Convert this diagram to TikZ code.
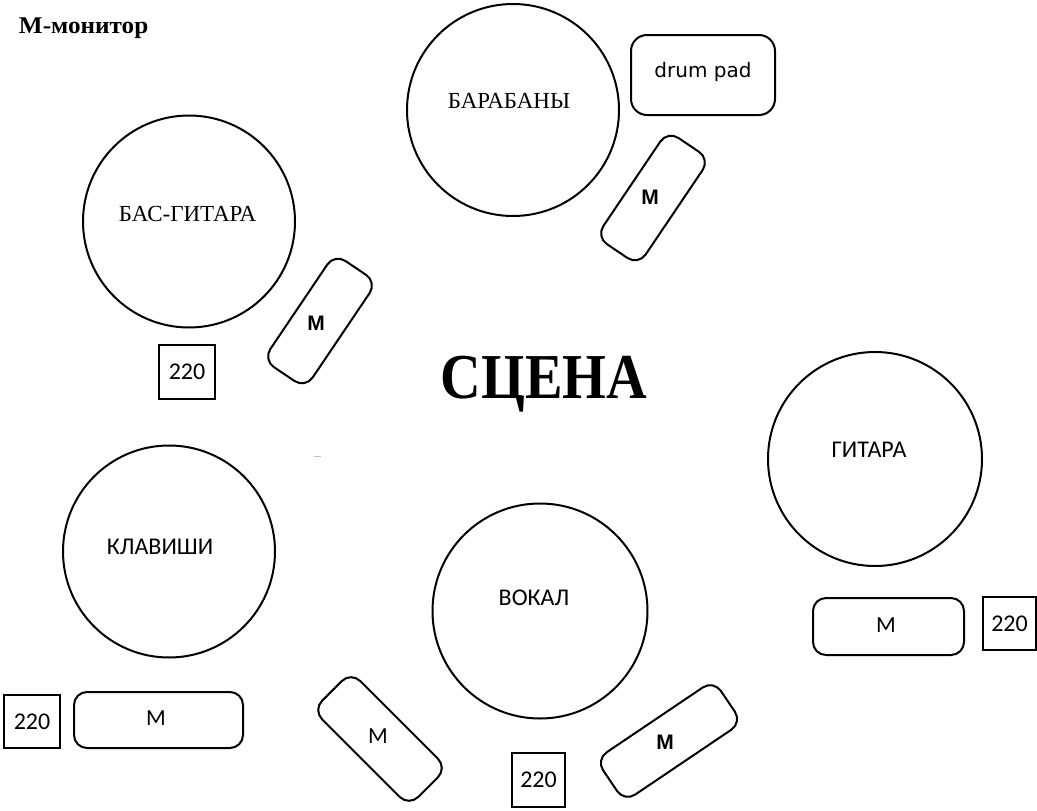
\documentclass[tikz,border=0pt]{standalone}
\usepackage{fontspec}
\usepackage{graphicx}
\setmainfont{Liberation Serif}
\newfontfamily\carl{Carlito}
\newfontfamily\libsans{Liberation Sans}
\newfontfamily\dvsans{DejaVu Sans}
\begin{document}
\begin{tikzpicture}[x=1pt,y=-1pt,line width=2pt,
  circ/.style={draw, circle, minimum size=212pt, inner sep=0pt},
  mon/.style={draw, rectangle, rounded corners=13pt, inner sep=0pt},
  sockbox/.style={draw, rectangle, inner sep=0pt, minimum width=55pt, minimum height=54pt, font=\carl\fontsize{24}{28}\selectfont},
  sanslbl/.style={font=\carl\fontsize{24}{28}\selectfont, inner sep=0pt},
  seriflbl/.style={font=\fontsize{23}{27}\selectfont, inner sep=0pt},
  mlbl/.style={font=\carl\fontsize{23}{26}\selectfont, inner sep=0pt},
  mbold/.style={font=\libsans\bfseries\fontsize{21}{24}\selectfont, inner sep=0pt}
]
\useasboundingbox[fill=white] (0,0) rectangle (1037,811);

% legend and title
\node[anchor=base west, inner sep=0pt, font=\bfseries\fontsize{24}{28}\selectfont] (legend) at (18,34) {\scalebox{1.05}[1]{М-монитор}};
\node[anchor=base, inner sep=0pt, font=\bfseries\fontsize{64}{70}\selectfont] (stage) at (544,398) {\scalebox{0.88}[1]{СЦЕНА}};

% circles
\node[circ] (drums) at (513,110) {};
\node[circ] (bass) at (189,221.5) {};
\node[circ] (keys) at (169,551.5) {};
\node[circ, minimum size=214pt] (gtr) at (875,459) {};
\node[circ, minimum size=215pt] (voc) at (540,611) {};

% circle labels
\node[seriflbl, anchor=base] (drumsT) at (509,108) {БАРАБАНЫ};
\node[seriflbl, anchor=base] (bassT) at (187.5,221) {БАС-ГИТАРА};
\node[sanslbl, anchor=base] (keysT) at (160,554) {КЛАВИШИ};
\node[sanslbl, anchor=base] (gtrT) at (869,457) {ГИТАРА};
\node[sanslbl, anchor=base] (vocT) at (534,605) {ВОКАЛ};

% drum pad
\node[mon, rounded corners=16pt, minimum width=144pt, minimum height=80pt] (pad) at (703,75) {};
\node[inner sep=0pt, font=\dvsans\fontsize{20}{24}\selectfont] (padT) at (703,72) {drum pad};

% straight monitors
\node[mon, minimum width=169pt, minimum height=56pt] (mk) at (158.5,720) {};
\node[mlbl] (mkT) at (156,718) {M};
\node[mon, minimum width=151pt, minimum height=57pt] (mg) at (888.5,626.5) {};
\node[mlbl] (mgT) at (886,625) {M};

% rotated monitors
\node[mon, rotate=56, minimum width=128pt, minimum height=51pt] (mb) at (320,321) {};
\node[mbold] (mbT) at (316,323) {M};
\node[mon, rotate=56, minimum width=128pt, minimum height=51pt] (md) at (653,198) {};
\node[mbold] (mdT) at (650,197) {M};
\node[mon, rotate=-45, minimum width=136pt, minimum height=54pt] (mvl) at (380,739) {};
\node[mlbl] (mvlT) at (378,736) {M};
\node[mon, rotate=34, minimum width=142pt, minimum height=51pt] (mvr) at (669,741) {};
\node[mbold] (mvrT) at (665,742) {M};

% 220 sockets
\node[sockbox, minimum width=56pt] (s1) at (187,372) {220};
\node[sockbox, minimum width=56pt, minimum height=53pt] (s2) at (32,721.5) {220};
\node[sockbox, minimum width=53pt, minimum height=53pt] (s3) at (1009.5,623.5) {220};
\node[sockbox, minimum width=53pt] (s4) at (538.5,780) {220};

% stray mark
\coordinate (d1) at (314,456);
\coordinate (d2) at (321,456);
\draw[gray!50, line width=1pt] (d1) -- (d2);
\end{tikzpicture}
\end{document}
